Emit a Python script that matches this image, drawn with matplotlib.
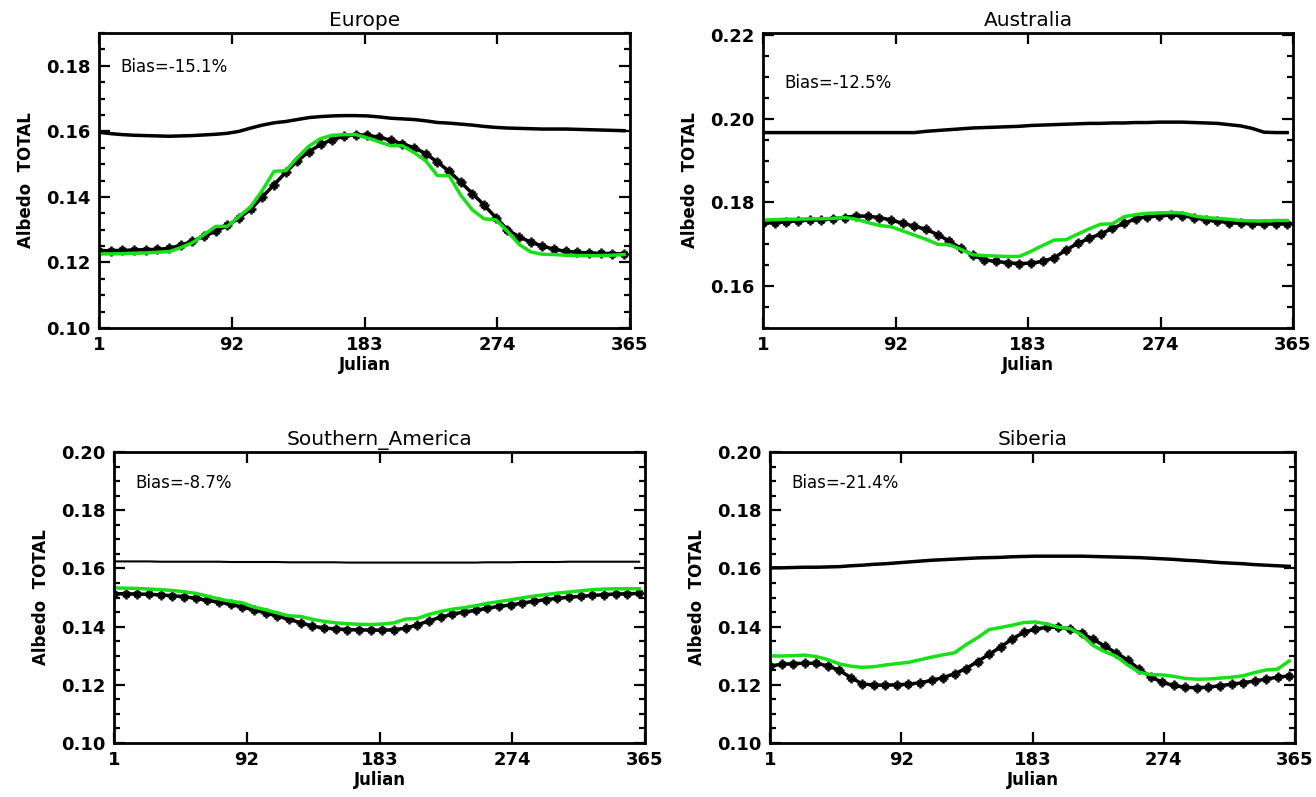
import matplotlib
matplotlib.use("Agg")
import matplotlib.pyplot as plt
from matplotlib.ticker import MultipleLocator

# 8-day composite days
days = list(range(1, 362, 8))

# Europe
eu_upper = [.1597, .1593, .1590, .1588, .1587, .1586, .1585, .1586, .1587, .1589,
            .1591, .1594, .1600, .1610, .1619, .1626, .1630, .1636, .1642, .1645,
            .1647, .1648, .1648, .1647, .1644, .1640, .1638, .1636, .1632, .1627,
            .1625, .1622, .1619, .1615, .1612, .1610, .1609, .1608, .1607, .1607,
            .1607, .1606, .1605, .1604, .1603, .1602]
eu_model = [.1236, .1236, .1237, .1238, .1239, .1240, .1243, .1252, .1265, .1280,
            .1295, .1313, .1335, .1362, .1400, .1437, .1475, .1510, .1538, .1560,
            .1575, .1585, .1590, .1588, .1582, .1573, .1562, .1550, .1532, .1506,
            .1478, .1445, .1410, .1375, .1337, .1300, .1278, .1262, .1250, .1240,
            .1234, .1231, .1229, .1228, .1227, .1226]
eu_obs = [.1226, .1226, .1227, .1228, .1229, .1231, .1233, .1245, .1260, .1285,
          .1310, .1310, .1340, .1370, .1420, .1478, .1480, .1520, .1555, .1578,
          .1588, .1590, .1590, .1580, .1568, .1556, .1556, .1535, .1510, .1465,
          .1465, .1405, .1360, .1333, .1330, .1295, .1255, .1232, .1225, .1224,
          .1222, .1221, .1221, .1221, .1222, .1224]

# Australia
au_upper = [.1967, .1967, .1967, .1967, .1967, .1967, .1967, .1967, .1967, .1967,
            .1967, .1967, .1967, .1967, .1970, .1972, .1974, .1976, .1978, .1979,
            .1980, .1981, .1982, .1984, .1985, .1986, .1987, .1988, .1989, .1989,
            .1990, .1990, .1991, .1991, .1992, .1992, .1992, .1991, .1990, .1989,
            .1986, .1983, .1977, .1968, .1967, .1967]
au_model = [.1750, .1752, .1754, .1756, .1758, .1759, .1761, .1764, .1768, .1767,
            .1764, .1758, .1750, .1743, .1736, .1723, .1708, .1690, .1674, .1663,
            .1659, .1656, .1654, .1655, .1659, .1668, .1686, .1702, .1714, .1725,
            .1738, .1750, .1761, .1766, .1768, .1770, .1768, .1764, .1758, .1755,
            .1752, .1750, .1749, .1748, .1749, .1749]
au_obs = [.1758, .1759, .1760, .1760, .1761, .1761, .1762, .1764, .1760, .1752,
          .1745, .1742, .1732, .1722, .1712, .1700, .1699, .1688, .1675, .1673,
          .1672, .1671, .1671, .1683, .1697, .1710, .1711, .1724, .1737, .1748,
          .1749, .1766, .1771, .1774, .1775, .1776, .1775, .1768, .1764, .1762,
          .1760, .1757, .1756, .1756, .1757, .1757]

# Southern America
sa_upper = [.1624, .1624, .1624, .1624, .1623, .1623, .1623, .1623, .1623, .1623,
            .1622, .1622, .1622, .1622, .1622, .1621, .1621, .1621, .1621, .1621,
            .1620, .1620, .1620, .1620, .1620, .1620, .1620, .1620, .1620, .1620,
            .1620, .1620, .1621, .1621, .1621, .1622, .1622, .1622, .1622, .1623,
            .1623, .1623, .1623, .1623, .1623, .1623]
sa_model = [.1513, .1513, .1512, .1511, .1509, .1506, .1503, .1497, .1490, .1484,
            .1476, .1467, .1457, .1447, .1436, .1425, .1413, .1402, .1395, .1392,
            .1390, .1389, .1388, .1388, .1389, .1395, .1406, .1420, .1432, .1443,
            .1450, .1456, .1463, .1470, .1474, .1481, .1487, .1493, .1497, .1501,
            .1504, .1507, .1510, .1512, .1513, .1514]
sa_obs = [.1533, .1532, .1531, .1529, .1527, .1524, .1520, .1514, .1505, .1495,
          .1487, .1482, .1467, .1458, .1447, .1437, .1435, .1425, .1418, .1413,
          .1410, .1408, .1407, .1409, .1413, .1426, .1428, .1442, .1452, .1460,
          .1465, .1472, .1480, .1486, .1492, .1499, .1505, .1510, .1515, .1519,
          .1523, .1527, .1529, .1530, .1530, .1530]

# Siberia
si_upper = [.1602, .1602, .1603, .1604, .1604, .1605, .1606, .1609, .1611, .1614,
            .1616, .1619, .1622, .1625, .1628, .1630, .1632, .1634, .1636, .1637,
            .1638, .1640, .1641, .1642, .1642, .1642, .1642, .1642, .1641, .1640,
            .1639, .1638, .1637, .1635, .1633, .1631, .1628, .1626, .1623, .1620,
            .1618, .1616, .1613, .1611, .1609, .1607]
si_model = [.1265, .1270, .1273, .1274, .1274, .1265, .1250, .1225, .1203, .1199,
            .1199, .1200, .1202, .1207, .1215, .1225, .1238, .1256, .1280, .1305,
            .1330, .1358, .1380, .1392, .1397, .1398, .1392, .1377, .1357, .1333,
            .1310, .1285, .1254, .1228, .1208, .1198, .1191, .1190, .1192, .1197,
            .1202, .1207, .1213, .1220, .1226, .1231]
si_obs = [.1299, .1299, .1300, .1302, .1297, .1287, .1272, .1264, .1260, .1262,
          .1268, .1273, .1277, .1286, .1295, .1303, .1310, .1338, .1362, .1390,
          .1397, .1405, .1414, .1416, .1409, .1398, .1393, .1372, .1335, .1314,
          .1298, .1268, .1243, .1235, .1234, .1229, .1222, .1219, .1220, .1223,
          .1226, .1231, .1242, .1251, .1254, .1282]

panels = [
    ("Europe", "Bias=-15.1%", eu_upper, eu_model, eu_obs, (0.10, 0.19), [0.10, 0.12, 0.14, 0.16, 0.18]),
    ("Australia", "Bias=-12.5%", au_upper, au_model, au_obs, (0.15, 0.2205), [0.16, 0.18, 0.20, 0.22]),
    ("Southern_America", "Bias=-8.7%", sa_upper, sa_model, sa_obs, (0.10, 0.20), [0.10, 0.12, 0.14, 0.16, 0.18, 0.20]),
    ("Siberia", "Bias=-21.4%", si_upper, si_model, si_obs, (0.10, 0.20), [0.10, 0.12, 0.14, 0.16, 0.18, 0.20]),
]

# axes boxes in figure fractions [left, bottom, width, height]
W, H = 1316, 797
boxes = [
    [99 / W, 1 - 328 / H, 531 / W, 295 / H],
    [763 / W, 1 - 328 / H, 530 / W, 295 / H],
    [114 / W, 1 - 743 / H, 531 / W, 291 / H],
    [770 / W, 1 - 743 / H, 525 / W, 291 / H],
]
bias_y = [0.885, 0.83, 0.893, 0.893]
upper_lw = [2.5, 2.5, 1.5, 2.5]

fig = plt.figure(figsize=(W / 100, H / 100), dpi=100)
green = "#18e018"

for i, (title, bias, upper, model, obs, ylim, yticks) in enumerate(panels):
    ax = fig.add_axes(boxes[i])
    ax.plot(days, upper, color="black", lw=upper_lw[i])
    ax.plot(days, model, color="black", lw=2.5)
    ax.plot(days, model, color="black", ls="none", marker="+", ms=6.5, mew=1.8)
    ax.plot(days, model, color="black", ls="none", marker="x", ms=5, mew=1.8)
    ax.plot(days, obs, color=green, lw=2.5)

    ax.set_xlim(1, 365)
    ax.set_ylim(*ylim)
    ax.set_xticks([1, 92, 183, 274, 365])
    ax.set_yticks(yticks)
    ax.yaxis.set_major_formatter(plt.FuncFormatter(lambda v, p: f"{v:.2f}"))
    ax.yaxis.set_minor_locator(MultipleLocator(0.005))
    ax.tick_params(which="both", direction="in", top=True, right=True, width=1.6,
                   labelsize=13)
    ax.tick_params(which="major", length=8, pad=6)
    ax.tick_params(which="minor", length=4)
    for lab in ax.get_xticklabels() + ax.get_yticklabels():
        lab.set_fontweight("bold")
    for sp in ax.spines.values():
        sp.set_linewidth(2)

    ax.set_title(title, fontsize=14.5, pad=5)
    ax.set_xlabel("Julian", fontsize=12, fontweight="bold", labelpad=1)
    ax.set_ylabel("Albedo  TOTAL", fontsize=12, fontweight="bold", labelpad=8)
    ax.text(0.04, bias_y[i], bias, transform=ax.transAxes, fontsize=12,
            va="center", ha="left")

fig.savefig("out.png", dpi=100)
